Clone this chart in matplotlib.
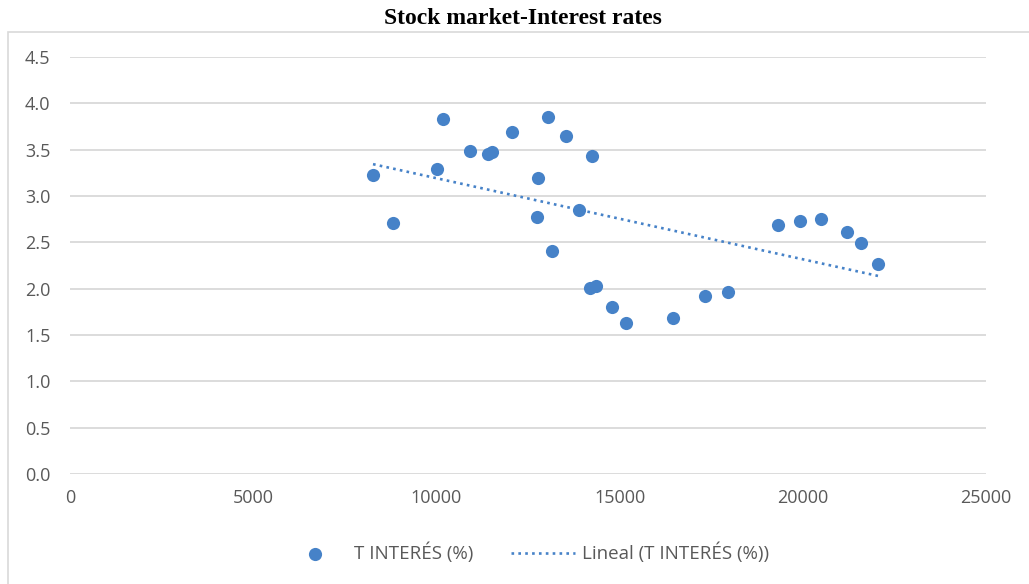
import numpy as np
import matplotlib.pyplot as plt
from matplotlib.patches import Rectangle

# valores
bolsa = [8270, 8816, 10180, 10017, 10917, 11408, 11517, 12063, 13046, 13537,
         12773, 12745, 14247, 13892, 13155, 14192, 14356, 14793, 15175, 16457,
         17330, 17958, 19323, 19924, 20497, 21206, 21588, 22052]
interes = [3.23, 2.71, 3.83, 3.29, 3.49, 3.45, 3.47, 3.69, 3.85, 3.65,
           3.19, 2.77, 3.43, 2.85, 2.41, 2.01, 2.03, 1.80, 1.63, 1.68,
           1.92, 1.96, 2.69, 2.73, 2.75, 2.61, 2.49, 2.27]
x_ticks = [0, 5000, 10000, 15000, 20000, 25000]
y_ticks = [0.0, 0.5, 1.0, 1.5, 2.0, 2.5, 3.0, 3.5, 4.0, 4.5]

azul = '#4682C8'
gris = '#595959'

plt.rcParams['font.family'] = ['Open Sans', 'DejaVu Sans']

fig = plt.figure(figsize=(10.29, 5.84), dpi=100)
ax = fig.add_axes([70 / 1029, 1 - 474 / 584, 916 / 1029, 417 / 584])

# recuadro del grafico
fig.patches.append(Rectangle((8 / 1029, -0.1), 1.2, 1 - 32 / 584 + 0.1,
                             transform=fig.transFigure, fill=False,
                             edgecolor='#D9D9D9', linewidth=1.2))

x = np.array(bolsa)
y = np.array(interes)
ax.scatter(x, y, s=90, color=azul, zorder=3, linewidths=0, label='T INTERÉS (%)')

# tendencia lineal
m, b = np.polyfit(x, y, 1)
xt = np.array([x.min(), x.max()])
ax.plot(xt, m * xt + b, color=azul, linewidth=1.9, linestyle=(0, (1, 1.6)),
        dash_capstyle='butt', zorder=2, label='Lineal (T INTERÉS (%))')

ax.set_xlim(0, 25000)
ax.set_ylim(0, 4.5)
ax.set_xticks(x_ticks)
ax.set_yticks(y_ticks)
ax.set_yticklabels([f'{v:.1f}' for v in y_ticks])
ax.grid(axis='y', color='#D9D9D9', linewidth=1.3)
ax.set_axisbelow(True)
for s in ['top', 'right', 'left', 'bottom']:
    ax.spines[s].set_visible(False)
ax.tick_params(length=0, labelsize=13, colors=gris)
ax.tick_params(axis='y', pad=14)
ax.tick_params(axis='x', pad=11)

fig.text(523 / 1029, 1 - 18.5 / 584, 'Stock market-Interest rates',
         family='Liberation Serif', fontweight='bold', fontsize=17,
         ha='center', va='center')

fig.legend(loc='center', bbox_to_anchor=(526 / 1029, 1 - 553 / 584), ncol=2,
           frameon=False, fontsize=13.5, labelcolor=gris, handlelength=3.4,
           columnspacing=2.0, handletextpad=0.4)

fig.savefig('out.png', dpi=100)
